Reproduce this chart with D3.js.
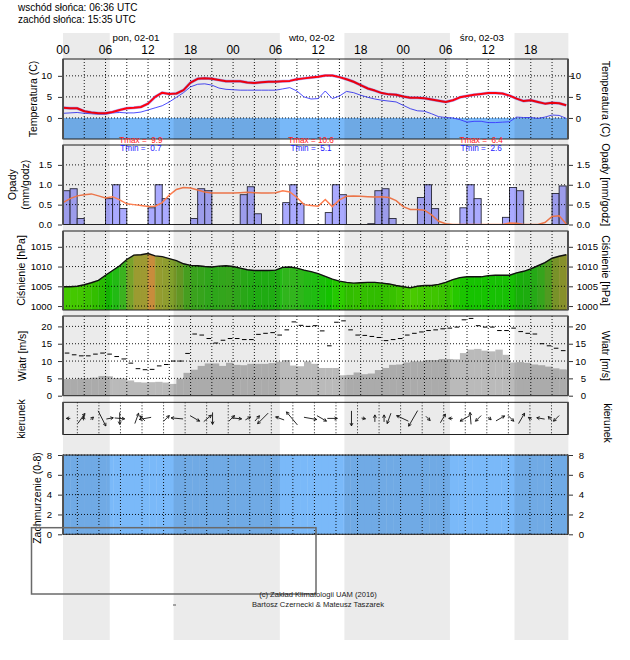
<!DOCTYPE html>
<html><head><meta charset="utf-8">
<script src="https://cdn.jsdelivr.net/npm/d3@7"></script>
<style>
body{margin:0;background:#fff}
</style>
</head><body>
<script>
// ---------------- DATA ----------------
const hours = d3.range(72);
const hourTickHours = [0,6,12,18,24,30,36,42,48,54,60,66];
const hourTickLabels = ["00","06","12","18","00","06","12","18","00","06","12","18"];
const dayLabels = ["pon, 02-01","wto, 02-02","śro, 02-03"];
const dayLabelHours = [10.3,35.1,59.1];
const sunrise = "06:36", sunset = "15:35";
const nightStart = [0,15.6,39.7,63.7];
const nightEnd = [6.6,30.6,54.6,71.3];

const temperature = [2.4,2.3,2.3,1.6,1.3,1.1,1.1,1.4,1.9,2.3,2.4,2.6,3.4,5.0,6.0,5.7,5.8,6.6,8.4,9.3,9.4,9.3,9.0,8.7,
  8.7,8.7,8.4,8.3,8.5,8.6,8.6,8.7,8.8,9.2,9.4,9.6,9.8,10.1,10.1,9.7,9.2,8.6,7.8,7.0,6.5,5.9,5.6,5.5,
  5.1,4.8,4.8,4.7,4.4,4.1,3.8,4.2,4.9,5.2,5.5,5.7,5.9,5.9,5.8,5.3,4.6,4.0,4.2,3.8,3.4,3.6,3.5,3.0];
const dewPoint = [1.1,1.2,1.3,1.1,1.0,0.9,0.9,1.2,1.3,1.2,1.2,1.4,1.9,2.4,2.9,3.8,4.9,6.0,7.4,8.0,8.1,7.8,7.1,6.8,
  6.7,6.6,6.6,6.6,6.6,6.6,6.6,6.9,7.2,6.4,5.0,4.5,4.6,6.4,4.6,5.2,6.3,6.0,5.4,4.9,4.5,4.2,4.0,3.8,
  3.0,2.2,1.7,1.6,1.0,0.3,0.1,0.0,-0.4,-1.0,-0.8,-0.8,-1.1,-1.1,-1.0,-0.9,0.2,0.1,0.1,-0.1,0.2,0.7,0.6,-0.1];
const tmaxValues = [9.9,10.6,6.4];
const tminValues = [0.7,5.1,2.6];
const tLabelHours = [11,35,59];

const precip = [0.85,0.9,0.15,0,0,0,0.65,1.0,0.4,0,0,0,0.42,1.0,0.65,0,0,0,0.15,0.9,0.85,0,0,0,
  0,0.75,0.95,0.27,0,0,0,0.55,1.0,0.53,0,0,0,0.3,1.0,0.75,0,0,0,0.02,0.85,0.9,0.15,0,
  0,0,0.68,1.0,0.4,0,0,0,0.42,1.0,0.65,0,0,0,0.18,0.93,0.85,0,0,0,0,0.78,0.97,0];
const precipLine = [0.55,0.65,0.72,0.75,0.77,0.72,0.67,0.70,0.62,0.52,0.50,0.48,0.45,0.46,0.55,0.74,0.88,0.93,0.92,0.87,0.82,0.79,0.79,0.79,
  0.79,0.80,0.81,0.80,0.79,0.79,0.80,0.85,0.82,0.68,0.50,0.48,0.46,0.63,0.45,0.62,0.71,0.72,0.71,0.70,0.69,0.70,0.68,0.60,
  0.45,0.38,0.38,0.36,0.24,0.08,0.02,0,0,0,0,0,0,0,0,0.04,0.03,0,0,0,0.05,0.20,0.22,0.01];

const pressure = [1004.9,1004.9,1005.0,1005.4,1005.9,1006.5,1007.8,1009.0,1010.2,1011.8,1012.9,1013.0,1013.3,1012.7,1012.5,1012.0,1011.5,1010.7,1010.3,1010.2,1010.0,1009.9,1010.1,1010.2,
  1010.0,1009.6,1009.2,1009.0,1009.0,1009.0,1009.1,1009.8,1009.9,1009.6,1009.1,1008.7,1008.2,1007.5,1006.8,1006.3,1006.0,1005.8,1005.9,1006.0,1006.0,1005.8,1005.6,1005.2,
  1004.9,1004.6,1005.0,1005.2,1005.2,1005.5,1006.0,1006.7,1007.2,1007.4,1007.4,1007.4,1007.7,1007.8,1007.8,1007.8,1008.4,1008.8,1009.4,1010.2,1011.0,1012.1,1012.6,1013.0];

const windSpeed = [4.8,4.8,5.0,5.0,5.2,5.7,5.6,5.1,5.0,4.4,3.9,3.8,3.9,4.0,3.8,3.4,4.9,6.6,7.5,8.6,9.3,9.3,8.6,9.5,
  8.9,8.8,9.2,9.2,9.2,9.4,9.8,10.3,8.7,8.5,9.9,9.2,8.0,8.0,8.0,5.9,6.0,6.7,6.2,6.4,7.4,8.0,8.9,9.0,
  9.6,9.9,9.9,10.3,10.3,10.6,10.6,10.5,12.3,13.3,13.5,13.0,12.8,13.3,11.8,9.6,9.7,9.5,9.0,8.8,8.4,7.9,7.6,7.4];
const windGust = [12.3,11.8,11.5,11.5,12.0,12.3,12.0,11.3,10.6,9.4,7.8,7.5,7.6,8.6,9.0,10.0,10.0,12.2,17.8,17.5,16.5,15.2,16.0,16.5,
  16.5,16.2,16.2,17.7,18.0,18.2,17.5,19.0,21.3,20.3,20.0,20.2,18.7,14.4,21.2,21.6,19.0,17.5,17.4,17.1,16.8,15.9,16.2,16.5,
  17.5,18.0,18.4,18.8,19.0,19.3,19.5,19.8,21.9,22.3,20.2,19.8,19.8,18.8,18.8,19.5,18.5,18.0,17.8,15.0,14.4,13.7,13.0,12.8];

const dirHour = [0.75,2.6,2.9,4.1,5.5,6.6,8.0,8.0,10.4,11.6,11.2,14.6,16.1,18.6,20.4,21.1,23.8,24.5,26.1,27.4,28.2,30.6,32.3,34.9,36.5,38.0,
  40.7,42.4,44.0,45.3,46.0,47.9,49.4,51.5,53.6,54.7,56.7,57.5,58.6,60.2,61.7,63.2,64.7,65.9,67.4,68.7,69.6];
const dirDeg = [270,35,0,45,153,80,95,180,20,260,315,45,275,120,50,180,45,95,60,40,225,290,320,100,120,90,
  180,100,0,0,200,295,210,135,30,270,240,355,225,135,60,135,30,300,280,320,225];
const dirSpeed = [4,12,4,4,17,7,10,12,11,12,7,8,12,11,10,12,8,10,6,7,15,9,17,13,11,10,
  15,4,7,7,11,13,18,6,10,4,11,12,8,4,10,8,12,4,8,5,8];

const cloudCover = [8,8,8,8,8,8,8,8,8,8,8,8,8,8,8,8,8,8,8,8,8,8,8,8,
  8,8,8,8,8,8,8,8,8,8,8,8,8,8,8,8,8,8,8,8,8,8,8,8,
  8,8,8,8,8,8,8,8,8,8,8,8,8,8,8,8,8,8,8,8,8,8,8,8];

const tempTicks = [0,5,10];
const precipTicks = [0,0.5,1.0,1.5];
const pressTicks = [1000,1005,1010,1015];
const windTicks = [0,5,10,15,20];
const cloudTicks = [0,2,4,6,8];

// ---------------- LAYOUT ----------------
const W = 630, H = 660, X0 = 63, X1 = 568;
const svg = d3.select("body").append("svg").attr("width", W).attr("height", H);
const x = d3.scaleLinear().domain([0, 71.25]).range([X0, X1]);
const xAux = d3.scaleLinear().domain([1, 71.3]).range([X0, X1]);

const P = {
  temp: {top: 59, bottom: 139},
  prec: {top: 145, bottom: 224.5},
  pres: {top: 231, bottom: 310},
  wind: {top: 316, bottom: 395.7},
  dir: {top: 402.3, bottom: 434.5},
  cloud: {top: 455, bottom: 534.3}
};
const yT = d3.scaleLinear().domain([-5, 14]).range([P.temp.bottom, P.temp.top]);
const yP = d3.scaleLinear().domain([0, 2]).range([P.prec.bottom, P.prec.top]);
const yPr = d3.scaleLinear().domain([999, 1019]).range([P.pres.bottom, P.pres.top]);
const yW = d3.scaleLinear().domain([0, 23]).range([P.wind.bottom, P.wind.top]);
const yC = d3.scaleLinear().domain([0, 8]).range([P.cloud.bottom, P.cloud.top]);
const lenScale = d3.scaleLinear().domain([0, 20]).range([0, 20]);

const defs = svg.append("defs");
Object.entries(P).forEach(([k, p]) => {
  defs.append("clipPath").attr("id", "clip-" + k).append("rect")
    .attr("x", X0).attr("y", p.top).attr("width", X1 - X0).attr("height", p.bottom - p.top);
});

const gFill = svg.append("g");
const gGrid = svg.append("g");
const gLines = svg.append("g");
const gAxes = svg.append("g");
const gNight = svg.append("g");
const gText = svg.append("g");

// ---------- Temperature panel ----------
{
  const g = gFill.append("g").attr("clip-path", "url(#clip-temp)");
  g.append("rect").attr("x", X0).attr("width", X1 - X0)
    .attr("y", yT(0)).attr("height", yT(-5) - yT(0)).attr("fill", "#78b8f8");
  const gl = gLines.append("g").attr("clip-path", "url(#clip-temp)");
  const line = d3.line().x((d, i) => x(hours[i])).y(d => yT(d));
  gl.append("path").attr("d", line(dewPoint)).attr("fill", "none").attr("stroke", "#3a3aff").attr("stroke-width", 0.9);
  gl.append("path").attr("d", line(temperature)).attr("fill", "none").attr("stroke", "#7a7aff").attr("stroke-width", 3).attr("stroke-opacity", 0.6).attr("stroke-linejoin", "round");
  gl.append("path").attr("d", line(temperature)).attr("fill", "none").attr("stroke", "#ff0010").attr("stroke-width", 2).attr("stroke-linejoin", "round");
}

// ---------- Precipitation panel ----------
{
  const g = gFill.append("g").attr("clip-path", "url(#clip-prec)");
  g.selectAll("rect").data(hours.filter(h => precip[h] > 0)).join("rect")
    .attr("x", h => x(h)).attr("width", h => x(h + 1) - x(h))
    .attr("y", h => yP(precip[h])).attr("height", h => yP(0) - yP(precip[h]))
    .attr("fill", "#aaaaff").attr("stroke", "#2a2a3a").attr("stroke-width", 0.9);
  const gl = gLines.append("g").attr("clip-path", "url(#clip-prec)");
  const line = d3.line().x((d, i) => x(hours[i])).y(d => yP(d));
  gl.append("path").attr("d", line(precipLine)).attr("fill", "none").attr("stroke", "#ff7f50").attr("stroke-width", 1.5);
}

// ---------- Pressure panel ----------
{
  const pColor = d3.scaleLinear()
    .domain([1004.6, 1006, 1007.5, 1009, 1010, 1011, 1012, 1013.05, 1013.3])
    .range(["#50dc00", "#36ce00", "#14c200", "#22ba14", "#34b41e", "#58a824", "#80a02c", "#a09a32", "#c88c3c"])
    .clamp(true);
  const g = gFill.append("g").attr("clip-path", "url(#clip-pres)");
  g.selectAll("path").data(hours).join("path")
    .attr("d", h => {
      const p0 = pressure[h], p1 = h < 71 ? pressure[h + 1] : pressure[h];
      return `M${x(h)},${yPr(p0)}L${x(h + 1)},${yPr(p1)}L${x(h + 1)},${yPr(999)}L${x(h)},${yPr(999)}Z`;
    })
    .attr("fill", h => pColor(pressure[h])).attr("stroke", h => pColor(pressure[h])).attr("stroke-width", 0.4);
  const gl = gLines.append("g").attr("clip-path", "url(#clip-pres)");
  const line = d3.line().x((d, i) => x(hours[i])).y(d => yPr(d));
  gl.append("path").attr("d", line(pressure)).attr("fill", "none").attr("stroke", "#111").attr("stroke-width", 1.4);
}

// ---------- Wind panel ----------
{
  const g = gFill.append("g").attr("clip-path", "url(#clip-wind)");
  g.selectAll("rect").data(hours).join("rect")
    .attr("x", h => x(h)).attr("width", h => x(h + 1) - x(h) + 0.3)
    .attr("y", h => yW(windSpeed[h])).attr("height", h => yW(0) - yW(windSpeed[h]))
    .attr("fill", "#bababa");
  const gl = gLines.append("g").attr("clip-path", "url(#clip-wind)");
  gl.selectAll("line").data(hours).join("line")
    .attr("x1", h => x(h + 0.25)).attr("x2", h => x(h + 0.9))
    .attr("y1", h => yW(windGust[h])).attr("y2", h => yW(windGust[h]))
    .attr("stroke", "#000").attr("stroke-width", 1);
}

// ---------- Direction panel ----------
{
  const yMid = (P.dir.top + P.dir.bottom) / 2;
  const gl = gLines.append("g").attr("clip-path", "url(#clip-dir)");
  dirHour.forEach((h, i) => {
    const th = dirDeg[i] * Math.PI / 180;
    const vx = Math.sin(th), vy = -Math.cos(th);
    const L = lenScale(dirSpeed[i]);
    const cx = x(h), cy = yMid;
    const x1 = cx - vx * L / 2, y1 = cy - vy * L / 2, x2 = cx + vx * L / 2, y2 = cy + vy * L / 2;
    const a = 28 * Math.PI / 180, hl = 3.2;
    const bx = -vx, by = -vy;
    const h1x = x2 + hl * (bx * Math.cos(a) - by * Math.sin(a)), h1y = y2 + hl * (bx * Math.sin(a) + by * Math.cos(a));
    const h2x = x2 + hl * (bx * Math.cos(-a) - by * Math.sin(-a)), h2y = y2 + hl * (bx * Math.sin(-a) + by * Math.cos(-a));
    gl.append("path")
      .attr("d", `M${x1},${y1}L${x2},${y2}M${h1x},${h1y}L${x2},${y2}L${h2x},${h2y}`)
      .attr("fill", "none").attr("stroke", "#111").attr("stroke-width", 0.9);
  });
}

// ---------- Cloud panel ----------
{
  const g = gFill.append("g").attr("clip-path", "url(#clip-cloud)");
  g.selectAll("rect").data(hours).join("rect")
    .attr("x", h => xAux(h)).attr("width", h => xAux(h + 1) - xAux(h) + 0.4)
    .attr("y", h => yC(cloudCover[h])).attr("height", h => yC(0) - yC(cloudCover[h]))
    .attr("fill", "#7ab9f9");
}

// ---------- Grids ----------
function hgrid(scale, vals) {
  vals.forEach(v => {
    gGrid.append("line").attr("x1", X0).attr("x2", X1).attr("y1", scale(v)).attr("y2", scale(v))
      .attr("stroke", "#000").attr("stroke-width", 0.9).attr("stroke-dasharray", "1,2");
  });
}
function vgrid(scale, top, bottom) {
  d3.range(3, 70, 3).forEach(h => {
    gGrid.append("line").attr("x1", scale(h)).attr("x2", scale(h)).attr("y1", top).attr("y2", bottom)
      .attr("stroke", "#000").attr("stroke-width", 0.9).attr("stroke-dasharray", "1,2");
  });
}
hgrid(yT, tempTicks); vgrid(x, P.temp.top, P.temp.bottom);
hgrid(yP, precipTicks.slice(1)); vgrid(x, P.prec.top, P.prec.bottom);
hgrid(yPr, pressTicks); vgrid(x, P.pres.top, P.pres.bottom);
hgrid(yW, windTicks.slice(1)); vgrid(x, P.wind.top, P.wind.bottom);
vgrid(xAux, P.dir.top, P.dir.bottom);
hgrid(yC, cloudTicks); vgrid(xAux, P.cloud.top, P.cloud.bottom);

// ---------- Frames & axes ----------
function frame(p) {
  gAxes.append("rect").attr("x", X0).attr("y", p.top).attr("width", X1 - X0).attr("height", p.bottom - p.top)
    .attr("fill", "none").attr("stroke", "#222").attr("stroke-width", 1);
  [X0, X1].forEach(xx => gAxes.append("line").attr("x1", xx).attr("x2", xx).attr("y1", p.top).attr("y2", p.bottom)
    .attr("stroke", "#555").attr("stroke-width", 2));
}
Object.values(P).forEach(frame);

const FF = '"Liberation Sans",Arial,sans-serif';
function yAxis(scale, vals, fmt, rightEnd) {
  const axL = d3.axisLeft(scale).tickValues(vals).tickFormat(fmt).tickSize(4).tickPadding(6);
  const axR = d3.axisRight(scale).tickValues(vals).tickFormat(fmt).tickSize(4).tickPadding(6);
  const gl = gAxes.append("g").attr("transform", `translate(${X0 - 1},0)`).call(axL);
  const gr = gAxes.append("g").attr("transform", `translate(${X1 + 1},0)`).call(axR);
  [gl, gr].forEach(g => {
    g.select(".domain").remove();
    g.selectAll("line").attr("stroke", "#333");
    g.selectAll("text").attr("font-size", 9.6).attr("font-family", FF).attr("fill", "#000");
  });
  gl.selectAll("text").attr("x", -10).attr("text-anchor", "end");
  gr.selectAll("text").attr("x", rightEnd - X1).attr("text-anchor", "end");
}
yAxis(yT, tempTicks, d3.format("d"), 580);
yAxis(yP, precipTicks, d3.format(".1f"), 589);
yAxis(yPr, pressTicks, d3.format("d"), 597);
yAxis(yW, windTicks, d3.format("d"), 585);
yAxis(yC, cloudTicks, d3.format("d"), 583);

// ---------- Night bands (overlay) ----------
gNight.selectAll("rect").data(nightStart).join("rect")
  .attr("x", (d, i) => x(d)).attr("width", (d, i) => x(nightEnd[i]) - x(d))
  .attr("y", 33).attr("height", 640 - 33)
  .attr("fill", "#000").attr("fill-opacity", 0.078);

// ---------- Texts ----------
function txt(xx, yy, s, size, opts = {}) {
  const t = gText.append("text").attr("x", xx).attr("y", yy).text(s).attr("font-size", size)
    .attr("font-family", FF).attr("fill", opts.fill || "#000");
  if (opts.anchor) t.attr("text-anchor", opts.anchor);
  if (opts.transform) t.attr("transform", opts.transform);
  if (opts.space) t.attr("style", "white-space:pre");
  return t;
}
txt(18, 11, `wschód słońca: ${sunrise} UTC`, 10);
txt(18, 23, `zachód słońca: ${sunset} UTC`, 10);

hourTickHours.forEach((h, i) => txt(x(h), 54, hourTickLabels[i], 12, {anchor: "middle"}));
dayLabelHours.forEach((h, i) => txt(x(h), 41, dayLabels[i], 9.8, {anchor: "middle"}));

tLabelHours.forEach((h, i) => {
  const f = v => (v < 10 ? " " : "") + v.toFixed(1);
  txt(x(h), 142.6, `Tmax = ${f(tmaxValues[i])}`, 8.2, {anchor: "middle", fill: "#ff2020", space: true});
  txt(x(h), 151.2, `Tmin = ${f(tminValues[i])}`, 8.2, {anchor: "middle", fill: "#2020ff", space: true});
});

function leftTitle(cx, p, s) {
  const cy = (p.top + p.bottom) / 2;
  txt(0, 0, s, 10.5, {anchor: "middle", transform: `translate(${cx},${cy}) rotate(-90)`}).attr("dy", "0.35em");
}
function rightTitle(cx, p, s) {
  const cy = (p.top + p.bottom) / 2;
  txt(0, 0, s, 10.5, {anchor: "middle", transform: `translate(${cx},${cy}) rotate(90)`}).attr("dy", "0.35em");
}
leftTitle(33, P.temp, "Temperatura (C)");
leftTitle(12.5, P.prec, "Opady");
leftTitle(25, P.prec, "(mm/godz)");
leftTitle(21, P.pres, "Ciśnienie [hPa]");
leftTitle(22.5, P.wind, "Wiatr [m/s]");
leftTitle(21, {top: 404, bottom: 434}, "kierunek");
leftTitle(37, {top: 452, bottom: 544}, "Zachmurzenie (0-8)");
rightTitle(606, P.temp, "Temperatura (C)");
rightTitle(606, P.prec, "Opady [mm/godz]");
rightTitle(606, P.pres, "Ciśnienie [hPa]");
rightTitle(606, P.wind, "Wiatr [m/s]");
rightTitle(608, {top: 408, bottom: 438}, "kierunek");

// footer box & credits
gText.append("rect").attr("x", 31.5).attr("y", 527.7).attr("width", 316 - 31.5).attr("height", 594 - 527.7)
  .attr("fill", "none").attr("stroke", "#6a6a6a").attr("stroke-width", 1.5);
txt(318, 596.5, "(c) Zakład Klimatologii UAM (2016)", 7.6, {anchor: "middle", fill: "#222"});
txt(318, 607, "Bartosz Czernecki & Mateusz Taszarek", 7.6, {anchor: "middle", fill: "#222"});
gText.append("line").attr("x1", 173).attr("x2", 176).attr("y1", 605).attr("y2", 605).attr("stroke", "#555").attr("stroke-width", 1);
</script>
</body></html>
